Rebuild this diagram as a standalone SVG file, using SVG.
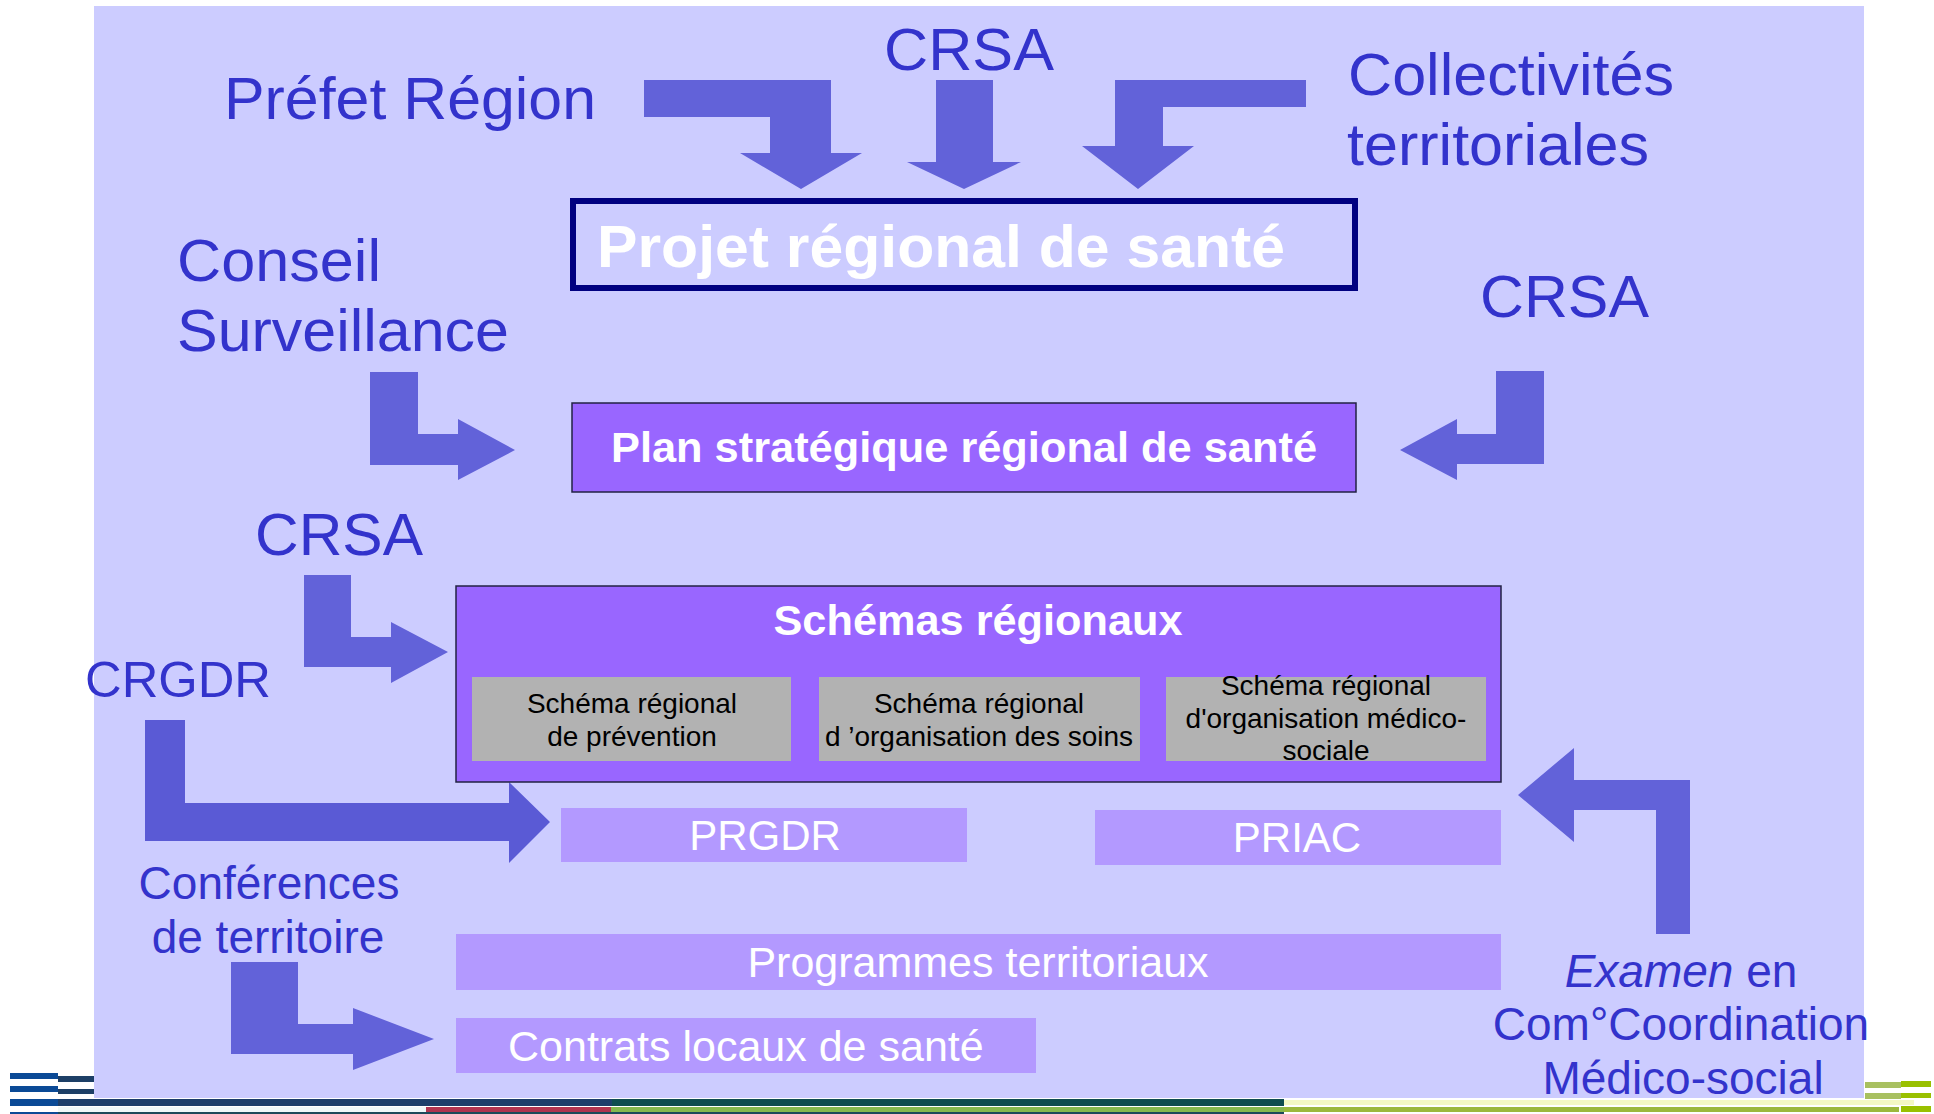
<svg xmlns="http://www.w3.org/2000/svg" width="1934" height="1114" viewBox="0 0 1934 1114">
<style>
.lbl{font-family:"Liberation Sans",Arial,sans-serif;fill:#3333CC;}
.big{font-size:60px;}
.mid{font-size:46px;}
.wb{font-family:"Liberation Sans",Arial,sans-serif;fill:#FFFFFF;font-weight:bold;}
.wn{font-family:"Liberation Sans",Arial,sans-serif;fill:#FFFFFF;font-size:42px;}
.blk{font-family:"Liberation Sans",Arial,sans-serif;fill:#000000;font-size:28px;}
.arr{fill:#6262D9;}
.box{fill:#9966FF;stroke:#222244;stroke-width:1.5;}
.gray{fill:#B2B2B2;}
.lite{fill:#B399FF;}
</style>
<rect x="0" y="0" width="1934" height="1114" fill="#FFFFFF"/>
<rect x="94" y="6" width="1770" height="1092" fill="#CCCCFF"/>

<g id="decoration">
<rect x="10" y="1073" width="48" height="6" fill="#0B4A96"/>
<rect x="10" y="1086" width="48" height="6" fill="#0B4A96"/>
<rect x="10" y="1099" width="48" height="7" fill="#0B4A96"/>
<rect x="10" y="1112" width="48" height="2" fill="#0B4A96"/>
<rect x="58" y="1076" width="36" height="6" fill="#1D3F66"/>
<rect x="58" y="1089" width="36" height="5" fill="#1D3F66"/>
<rect x="58" y="1099" width="554" height="7" fill="#1C3E6A"/>
<rect x="612" y="1099" width="672" height="7" fill="#0F4D4F"/>
<rect x="58" y="1107" width="368" height="5" fill="#EEF8F8"/>
<rect x="426" y="1107" width="185" height="5" fill="#B0344F"/>
<rect x="611" y="1107" width="673" height="5" fill="#86B84E"/>
<rect x="58" y="1112" width="1226" height="2" fill="#1C4A5A"/>
<rect x="1284" y="1100" width="630" height="5" fill="#F4F8C4"/>
<rect x="1284" y="1107" width="615" height="5" fill="#9CB83C"/>
<rect x="1865" y="1082" width="36" height="6" fill="#A8C060"/>
<rect x="1865" y="1093" width="36" height="6" fill="#A8C060"/>
<rect x="1901" y="1081" width="30" height="6" fill="#99C000"/>
<rect x="1901" y="1093" width="30" height="5" fill="#99C000"/>
<rect x="1901" y="1106" width="30" height="6" fill="#99C000"/>
</g>

<g id="connectors">
<polygon class="arr" points="644,80 831,80 831,153 862,153 801,189 740,153 770,153 770,117 644,117"/>
<polygon class="arr" points="936,80 993,80 993,162 1021,162 964,189 907,162 936,162"/>
<polygon class="arr" points="1306,80 1306,107 1163,107 1163,146 1194,146 1138,189 1082,146 1115,146 1115,80"/>
<polygon class="arr" points="370,372 418,372 418,434 458,434 458,419 515,450 458,480 458,465 370,465"/>
<polygon class="arr" points="1544,371 1544,464 1457,464 1457,480 1400,450 1457,419 1457,434 1496,434 1496,371"/>
<polygon class="arr" points="304,575 351,575 351,637 391,637 391,622 448,652 391,683 391,667 304,667"/>
<polygon fill="#5A5AD5" points="145,720 185,720 185,803 509,803 509,782 550,822 509,863 509,841 145,841"/>
<polygon class="arr" points="231,962 298,962 298,1024 353,1024 353,1008 434,1039 353,1070 353,1054 231,1054"/>
<polygon class="arr" points="1690,934 1656,934 1656,810 1574,810 1574,842 1518,795 1574,748 1574,780 1690,780"/>
</g>

<g id="prefet-region"><text class="lbl big" x="224" y="119" textLength="372" lengthAdjust="spacingAndGlyphs">Préfet Région</text></g>
<g id="crsa-top"><text class="lbl big" x="884" y="70" textLength="170" lengthAdjust="spacingAndGlyphs">CRSA</text></g>
<g id="collectivites"><text class="lbl big" x="1348" y="95" textLength="326" lengthAdjust="spacingAndGlyphs">Collectivités</text><text class="lbl big" x="1347" y="165" textLength="302" lengthAdjust="spacingAndGlyphs">territoriales</text></g>
<g id="conseil-surveillance"><text class="lbl big" x="177" y="281" textLength="204" lengthAdjust="spacingAndGlyphs">Conseil</text><text class="lbl big" x="177" y="351" textLength="332" lengthAdjust="spacingAndGlyphs">Surveillance</text></g>
<g id="crsa-right"><text class="lbl big" x="1480" y="317" textLength="169" lengthAdjust="spacingAndGlyphs">CRSA</text></g>
<g id="crsa-left"><text class="lbl big" x="255" y="555" textLength="168" lengthAdjust="spacingAndGlyphs">CRSA</text></g>
<g id="crgdr"><text class="lbl" style="font-size:50px" x="85" y="697" textLength="186" lengthAdjust="spacingAndGlyphs">CRGDR</text></g>
<g id="conferences"><text class="lbl mid" x="269" y="899" text-anchor="middle">Conférences</text><text class="lbl mid" x="268" y="953" text-anchor="middle">de territoire</text></g>
<g id="examen"><text class="lbl mid" x="1681" y="987" text-anchor="middle"><tspan font-style="italic">Examen</tspan> en</text><text class="lbl mid" x="1681" y="1040" text-anchor="middle">Com°Coordination</text><text class="lbl mid" x="1683" y="1094" text-anchor="middle">Médico-social</text></g>

<g id="projet">
<rect x="573" y="201" width="782" height="87" fill="none" stroke="#000080" stroke-width="6"/>
<text class="wb" style="font-size:60px" x="597" y="267" textLength="688" lengthAdjust="spacingAndGlyphs">Projet régional de santé</text>
</g>
<g id="plan">
<rect class="box" x="572" y="403" width="784" height="89"/>
<text class="wb" style="font-size:42px" x="964" y="462" text-anchor="middle" textLength="706" lengthAdjust="spacingAndGlyphs">Plan stratégique régional de santé</text>
</g>
<g id="schemas">
<rect class="box" x="456" y="586" width="1045" height="196"/>
<text class="wb" style="font-size:42px" x="978" y="635" text-anchor="middle" textLength="409" lengthAdjust="spacingAndGlyphs">Schémas régionaux</text>
</g>
<g id="schema-prevention">
<rect class="gray" x="472" y="677" width="319" height="84"/>
<text class="blk" x="632" y="713" text-anchor="middle">Schéma régional</text>
<text class="blk" x="632" y="746" text-anchor="middle">de prévention</text>
</g>
<g id="schema-soins">
<rect class="gray" x="819" y="677" width="321" height="84"/>
<text class="blk" x="979" y="713" text-anchor="middle">Schéma régional</text>
<text class="blk" x="979" y="746" text-anchor="middle">d ’organisation des soins</text>
</g>
<g id="schema-medico-social">
<rect class="gray" x="1166" y="677" width="320" height="84"/>
<text class="blk" x="1326" y="695" text-anchor="middle">Schéma régional</text>
<text class="blk" x="1326" y="728" text-anchor="middle">d'organisation médico-</text>
<text class="blk" x="1326" y="760" text-anchor="middle">sociale</text>
</g>
<g id="prgdr">
<rect class="lite" x="561" y="808" width="406" height="54"/>
<text class="wn" x="765" y="850" text-anchor="middle">PRGDR</text>
</g>
<g id="priac">
<rect class="lite" x="1095" y="810" width="406" height="55"/>
<text class="wn" x="1297" y="852" text-anchor="middle">PRIAC</text>
</g>
<g id="programmes">
<rect class="lite" x="456" y="934" width="1045" height="56"/>
<text class="wn" style="font-size:43px" x="978" y="977" text-anchor="middle">Programmes territoriaux</text>
</g>
<g id="contrats">
<rect class="lite" x="456" y="1018" width="580" height="55"/>
<text class="wn" style="font-size:43px" x="508" y="1061">Contrats locaux de santé</text>
</g>
</svg>
